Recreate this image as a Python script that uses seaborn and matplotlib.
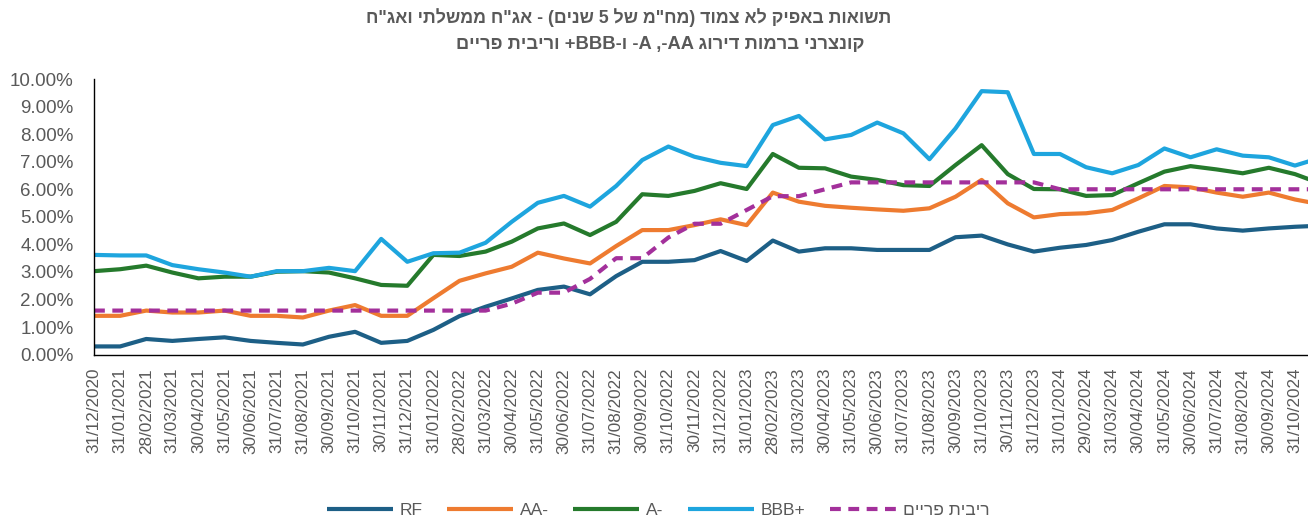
"""
Unlinked 5-year yields: government (RF), corporate AA-, A-, BBB+ and prime rate.
Recreated as a seaborn line chart, saved to out.png.
"""

import pandas as pd
import matplotlib
matplotlib.use("Agg")
import matplotlib.pyplot as plt
import matplotlib.ticker as mticker
import seaborn as sns

# ── Data ─────────────────────────────────────────────────────────────────────
DATES = [
    "31/12/2020", "31/01/2021", "28/02/2021", "31/03/2021", "30/04/2021", "31/05/2021",
    "30/06/2021", "31/07/2021", "31/08/2021", "30/09/2021", "31/10/2021", "30/11/2021",
    "31/12/2021", "31/01/2022", "28/02/2022", "31/03/2022", "30/04/2022", "31/05/2022",
    "30/06/2022", "31/07/2022", "31/08/2022", "30/09/2022", "31/10/2022", "30/11/2022",
    "31/12/2022", "31/01/2023", "28/02/2023", "31/03/2023", "30/04/2023", "31/05/2023",
    "30/06/2023", "31/07/2023", "31/08/2023", "30/09/2023", "31/10/2023", "30/11/2023",
    "31/12/2023", "31/01/2024", "29/02/2024", "31/03/2024", "30/04/2024", "31/05/2024",
    "30/06/2024", "31/07/2024", "31/08/2024", "30/09/2024", "31/10/2024", "30/11/2024",
]

RF = [0.30, 0.30, 0.57, 0.50, 0.57, 0.63, 0.50, 0.43, 0.37, 0.65, 0.83, 0.43,
      0.50, 0.90, 1.40, 1.74, 2.04, 2.35, 2.47, 2.19, 2.85, 3.37, 3.37, 3.43,
      3.76, 3.40, 4.14, 3.74, 3.86, 3.86, 3.80, 3.80, 3.80, 4.26, 4.32, 4.00,
      3.74, 3.88, 3.98, 4.16, 4.46, 4.73, 4.73, 4.58, 4.50, 4.58, 4.64, 4.68]

AA_MINUS = [1.41, 1.41, 1.60, 1.53, 1.53, 1.60, 1.41, 1.41, 1.35, 1.60, 1.80, 1.41,
            1.41, 2.05, 2.68, 2.95, 3.19, 3.70, 3.49, 3.31, 3.94, 4.52, 4.52, 4.70,
            4.91, 4.70, 5.88, 5.55, 5.40, 5.33, 5.27, 5.22, 5.31, 5.73, 6.34, 5.49,
            4.98, 5.10, 5.13, 5.25, 5.67, 6.12, 6.07, 5.88, 5.73, 5.88, 5.63, 5.45]

A_MINUS = [3.03, 3.10, 3.23, 2.98, 2.77, 2.83, 2.83, 3.01, 3.03, 2.98, 2.77, 2.53,
           2.50, 3.62, 3.58, 3.74, 4.10, 4.58, 4.76, 4.34, 4.82, 5.82, 5.76, 5.94,
           6.22, 6.01, 7.28, 6.78, 6.76, 6.46, 6.34, 6.15, 6.12, 6.88, 7.60, 6.55,
           6.01, 6.00, 5.76, 5.79, 6.22, 6.64, 6.84, 6.72, 6.58, 6.78, 6.55, 6.20]

BBB_PLUS = [3.62, 3.60, 3.60, 3.25, 3.10, 2.98, 2.83, 3.03, 3.03, 3.15, 3.03, 4.20,
            3.37, 3.68, 3.70, 4.06, 4.82, 5.51, 5.76, 5.37, 6.12, 7.06, 7.55, 7.18,
            6.96, 6.84, 8.33, 8.66, 7.81, 7.97, 8.42, 8.03, 7.09, 8.21, 9.56, 9.52,
            7.28, 7.28, 6.80, 6.58, 6.88, 7.48, 7.16, 7.45, 7.22, 7.16, 6.86, 7.15]

PRIME = [1.60, 1.60, 1.60, 1.60, 1.60, 1.60, 1.60, 1.60, 1.60, 1.60, 1.60, 1.60,
         1.60, 1.60, 1.60, 1.60, 1.85, 2.25, 2.25, 2.75, 3.50, 3.50, 4.25, 4.75,
         4.75, 5.25, 5.75, 5.75, 6.00, 6.25, 6.25, 6.25, 6.25, 6.25, 6.25, 6.25,
         6.25, 6.00, 6.00, 6.00, 6.00, 6.00, 6.00, 6.00, 6.00, 6.00, 6.00, 6.00]

TITLE_1 = 'תשואות באפיק לא צמוד (מח"מ של 5 שנים) - אג"ח ממשלתי ואג"ח'
TITLE_2 = "קונצרני ברמות דירוג AA-, A- ו-BBB+ וריבית פריים"
PRIME_LABEL = "ריבית פריים"

# ── Config ───────────────────────────────────────────────────────────────────
GRAY = "#595959"
COLORS = {"RF": "#1D5F86", "AA-": "#EE7B30", "A-": "#257A2C", "BBB+": "#1EA5DE",
          "PRIME": "#A3309B"}
FONTS = ["Liberation Sans", "DejaVu Sans"]

sns.set_theme(style="white")
plt.rcParams["font.family"] = FONTS


def rtl(text):
    # matplotlib has no bidi support: put RTL text in visual order,
    # keeping latin/digit runs left-to-right
    mirror = {"(": ")", ")": "("}
    out, run = [], ""
    for ch in reversed(text):
        if ch.isascii() and ch.isalnum():
            run = ch + run
        else:
            if run:
                out.append(run)
                run = ""
            out.append(mirror.get(ch, ch))
    if run:
        out.append(run)
    return "".join(out)


# ── Plot ─────────────────────────────────────────────────────────────────────
series = {"RF": RF, "AA-": AA_MINUS, "A-": A_MINUS, "BBB+": BBB_PLUS, "PRIME": PRIME}
df = pd.concat(
    [pd.DataFrame({"idx": range(len(DATES)), "value": vals, "series": name})
     for name, vals in series.items()],
    ignore_index=True,
)

W, H = 1308, 518
fig = plt.figure(figsize=(W / 100, H / 100), dpi=100)
ax = fig.add_axes([94 / W, (H - 354.7) / H, (W - 94) / W, 275.7 / H])

sns.lineplot(
    data=df, x="idx", y="value", hue="series", style="series",
    palette=COLORS,
    dashes={"RF": "", "AA-": "", "A-": "", "BBB+": "", "PRIME": (2.6, 1.8)},
    linewidth=3.0, legend=False, ax=ax,
)
for line in ax.get_lines():
    line.set_solid_capstyle("butt")
    line.set_dash_capstyle("butt")

# the last month is only partly in view, as in the source chart
ax.set_xlim(0, 46.5)
ax.set_ylim(0, 10)
ax.set_xticks(range(len(DATES) - 1))
ax.set_xticklabels(DATES[:-1], rotation=90)
ax.set_yticks(range(0, 11))
ax.yaxis.set_major_formatter(mticker.FuncFormatter(lambda v, _: f"{v:.2f}%"))
ax.set_xlabel("")
ax.set_ylabel("")
ax.tick_params(axis="x", direction="out", length=4.5, width=1, color="black",
               labelcolor=GRAY, labelsize=12.3, pad=5)
ax.tick_params(axis="y", direction="out", length=5.8, width=1, color="black",
               labelcolor=GRAY, labelsize=13.5, pad=9)
sns.despine(ax=ax)
for side in ("left", "bottom"):
    ax.spines[side].set_color("black")
    ax.spines[side].set_linewidth(1.0)

# Title (two centred lines, bold gray)
fig.text(629 / W, 1 - 18 / H, rtl(TITLE_1), ha="center", va="center",
         fontsize=12.8, fontweight="bold", color=GRAY)
fig.text(660 / W, 1 - 44 / H, rtl(TITLE_2), ha="center", va="center",
         fontsize=13.2, fontweight="bold", color=GRAY)

# Legend
lines = ax.get_lines()[:5]
labels = ["RF", "AA-", "A-", "BBB+", rtl(PRIME_LABEL)]
fig.legend(
    lines, labels, loc="center", bbox_to_anchor=(658 / W, 1 - 510 / H), ncol=5,
    frameon=False, handlelength=3.8, columnspacing=1.4, handletextpad=0.4,
    labelcolor=GRAY, prop={"size": 12.5},
)

fig.savefig("out.png", dpi=100)
